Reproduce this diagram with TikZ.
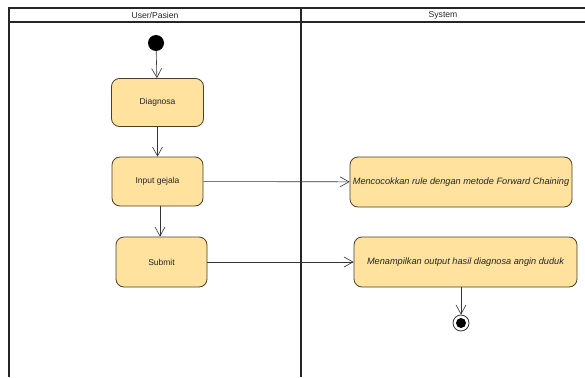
\documentclass[tikz,border=0pt]{standalone}
\usepackage{fontspec}
\setmainfont{Liberation Sans}
\usetikzlibrary{arrows.meta}
\definecolor{actfill}{HTML}{FEE29E}
\definecolor{actdraw}{HTML}{4A3F2E}
\tikzset{
  act/.style={draw=actdraw, fill=actfill, line width=0.8pt, rounded corners=8pt, inner sep=0pt, font=\fontsize{8.5}{10}\selectfont, text=black!85},
  actit/.style={act, font=\fontsize{9.2}{11}\selectfont\itshape},
  flow/.style={draw=black!80, line width=0.6pt, -{Straight Barb[length=9pt,width=10pt,line width=0.6pt]}},
  lane/.style={line width=1.1pt, draw=black!85},
  hdr/.style={font=\fontsize{8.6}{10}\selectfont, text=black!85}
}
\begin{document}
\begin{tikzpicture}[x=1pt,y=-1pt]
\useasboundingbox (0,0) rectangle (585,377);
% swimlanes
\draw[lane] (9,377) -- (9,8) -- (585,8);
\draw[lane] (9,22) -- (585,22);
\draw[lane] (301,8) -- (301,377);
\node[hdr] (h1) at (155,15) {User/Pasien};
\node[hdr] (h2) at (443,15) {System};
% nodes
\node[circle, fill=black, minimum size=16pt, inner sep=0pt] (start) at (156,43) {};
\node[act, minimum width=92pt, minimum height=48pt] (diag) at (157.5,102.5) {Diagnosa};
\node[act, minimum width=91pt, minimum height=49pt] (input) at (157.5,181.5) {Input gejala};
\node[act, minimum width=91pt, minimum height=50pt] (submit) at (161.5,262) {Submit};
\node[actit, minimum width=222pt, minimum height=50pt] (match) at (461,182) {Mencocokkan rule dengan metode Forward Chaining};
\node[actit, minimum width=223pt, minimum height=50pt] (show) at (465.5,262) {Menampilkan output hasil diagnosa angin duduk};
\node[circle, draw=black!80, line width=0.8pt, minimum size=16pt, inner sep=0pt] (end) at (461,323) {};
\node[circle, fill=black, minimum size=10pt, inner sep=0pt] (endin) at (end.center) {};
% flows
\draw[flow] (start) -- (diag);
\draw[flow] (diag) -- (input);
\draw[flow] (input.south -| 160,0) -- (submit.north -| 160,0);
\draw[flow] (input) -- (match);
\draw[flow] (submit) -- (show);
\draw[flow] (show.south -| end) -- (end);
\end{tikzpicture}
\end{document}
